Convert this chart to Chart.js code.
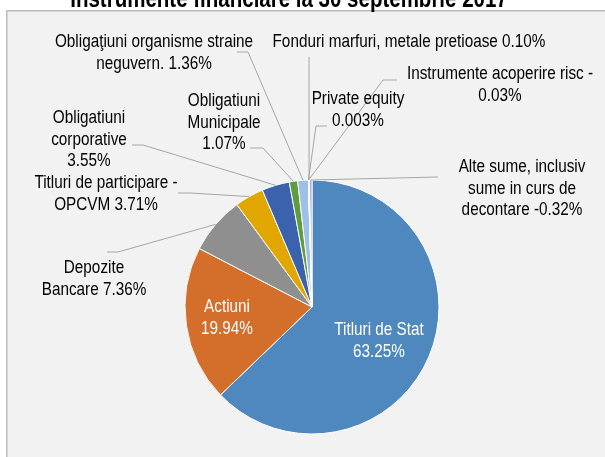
<!DOCTYPE html>
<html>
<head>
<meta charset="utf-8">
<title>Instrumente financiare</title>
<script src="https://cdn.jsdelivr.net/npm/chart.js@4.4.1/dist/chart.umd.min.js"></script>
<style>
  html, body { margin: 0; padding: 0; background: #ffffff; }
  #wrap { position: relative; width: 605px; height: 457px; overflow: hidden; }
</style>
</head>
<body>
<div id="wrap"><canvas id="pieChart" width="605" height="457"></canvas></div>
<script>
// Portfolio structure (% of total assets)
const categories = [
  "Titluri de Stat",
  "Actiuni",
  "Depozite Bancare",
  "Titluri de participare - OPCVM",
  "Obligatiuni corporative",
  "Obligatiuni Municipale",
  "Obligaţiuni organisme straine neguvern.",
  "Private equity",
  "Instrumente acoperire risc",
  "Fonduri marfuri, metale pretioase",
  "Alte sume, inclusiv sume in curs de decontare"
];
const shares = [63.25, 19.94, 7.36, 3.71, 3.55, 1.07, 1.36, 0.003, 0.03, 0.10, -0.32];

// Label text, {v} is replaced by the formatted share
const labelTemplates = [
  "Titluri de Stat\n{v}",
  "Actiuni\n{v}",
  "Depozite\nBancare {v}",
  "Titluri de participare -\nOPCVM {v}",
  "Obligatiuni\ncorporative\n{v}",
  "Obligatiuni\nMunicipale\n{v}",
  "Obligaţiuni organisme straine\nneguvern. {v}",
  "Private equity\n{v}",
  "Instrumente acoperire risc -\n{v}",
  "Fonduri marfuri, metale pretioase {v}",
  "Alte sume, inclusiv\nsume in curs de\ndecontare {v}"
];

const chartTitle = "Instrumente financiare la 30 septembrie 2017";

const sliceColors = [
  "#4f88bf", "#d36e2b", "#8f8f8f", "#e1a700", "#3a62ad", "#5f9b3f",
  "#9dc0e6", "#e8a27c", "#b3b3b3", "#9e8fcb", "#aaa2d9"
];

// Where each label sits: centre of first line, text colour, leader line points
const labelLayout = [
  { x: 379, y: 330, color: "#ffffff", lead: null },
  { x: 227, y: 307, color: "#ffffff", lead: null },
  { x: 94,  y: 268, color: "#000000", lead: [[107, 252], [118, 252]] },
  { x: 106, y: 183, color: "#000000", lead: [[178, 193], [190, 193]] },
  { x: 89,  y: 118, color: "#000000", lead: [[132, 145], [143, 145]] },
  { x: 224, y: 101, color: "#000000", lead: [[250, 148], [263, 148]] },
  { x: 154, y: 42,  color: "#000000", lead: [[237, 52], [248, 52]] },
  { x: 358, y: 99,  color: "#000000", lead: [[327, 126], [316, 126]] },
  { x: 500, y: 74,  color: "#000000", lead: [[397, 80], [383, 80]] },
  { x: 409, y: 42,  color: "#000000", lead: [[309, 57]] },
  { x: 522, y: 167, color: "#000000", lead: [[438, 177]] }
];

// No narrow face installed, so the regular one is squeezed horizontally
const FONT_FAMILY = "'Liberation Sans', Arial, sans-serif";
const NARROW = 0.82;
const LABEL_SIZE = 18.67;
const LINE_HEIGHT = 21.5;

function formatShare(v) {
  const decimals = Math.abs(v) < 0.01 ? 3 : 2;
  return v.toFixed(decimals) + "%";
}

function narrowText(ctx, text, x, y) {
  ctx.save();
  ctx.translate(x, y);
  ctx.scale(NARROW, 1);
  ctx.fillText(text, 0, 0);
  ctx.restore();
}

// Grey panel with border on top/left, title sitting above it
const framePlugin = {
  id: "frame",
  beforeDraw(chart) {
    const ctx = chart.ctx;
    ctx.save();
    ctx.fillStyle = "#f2f2f2";
    ctx.fillRect(6, 10, chart.width - 6, chart.height - 10);
    ctx.strokeStyle = "#bcbcbc";
    ctx.lineWidth = 1.5;
    ctx.beginPath();
    ctx.moveTo(6.75, chart.height);
    ctx.lineTo(6.75, 10.75);
    ctx.lineTo(chart.width, 10.75);
    ctx.stroke();

    ctx.fillStyle = "#000000";
    ctx.font = "bold 25px " + FONT_FAMILY;
    ctx.textAlign = "center";
    ctx.textBaseline = "alphabetic";
    narrowText(ctx, chartTitle, 289, 7);
    ctx.restore();
  }
};

// Leader lines and data labels
const labelPlugin = {
  id: "sliceLabels",
  afterDatasetsDraw(chart) {
    const ctx = chart.ctx;
    const arcs = chart.getDatasetMeta(0).data;
    ctx.save();

    arcs.forEach((arc, i) => {
      const layout = labelLayout[i];
      if (!layout.lead) return;
      const p = arc.getProps(["x", "y", "startAngle", "endAngle", "outerRadius"], true);
      const mid = (p.startAngle + p.endAngle) / 2;
      const ex = p.x + Math.cos(mid) * p.outerRadius;
      const ey = p.y + Math.sin(mid) * p.outerRadius;
      ctx.strokeStyle = "#a6a6a6";
      ctx.lineWidth = 1;
      ctx.beginPath();
      layout.lead.forEach((pt, k) => {
        if (k === 0) ctx.moveTo(pt[0], pt[1]);
        else ctx.lineTo(pt[0], pt[1]);
      });
      ctx.lineTo(ex, ey);
      ctx.stroke();
    });

    ctx.font = LABEL_SIZE + "px " + FONT_FAMILY;
    ctx.textAlign = "center";
    ctx.textBaseline = "middle";
    shares.forEach((v, i) => {
      const layout = labelLayout[i];
      const lines = labelTemplates[i].replace("{v}", formatShare(v)).split("\n");
      ctx.fillStyle = layout.color;
      lines.forEach((line, k) => {
        narrowText(ctx, line, layout.x, layout.y + k * LINE_HEIGHT);
      });
    });
    ctx.restore();
  }
};

function createPieChart() {
  const ctx = document.getElementById("pieChart").getContext("2d");
  return new Chart(ctx, {
    type: "pie",
    data: {
      labels: categories,
      datasets: [{
        data: shares,
        backgroundColor: sliceColors,
        borderColor: "#ffffff",
        borderWidth: 1,
        radius: 127
      }]
    },
    options: {
      responsive: false,
      animation: false,
      devicePixelRatio: 1,
      events: [],
      layout: {
        padding: { left: 19, right: 0, top: 157, bottom: 0 }
      },
      plugins: {
        legend: { display: false },
        tooltip: { enabled: false },
        title: { display: false }
      }
    },
    plugins: [framePlugin, labelPlugin]
  });
}

document.addEventListener("DOMContentLoaded", createPieChart);
</script>
</body>
</html>
